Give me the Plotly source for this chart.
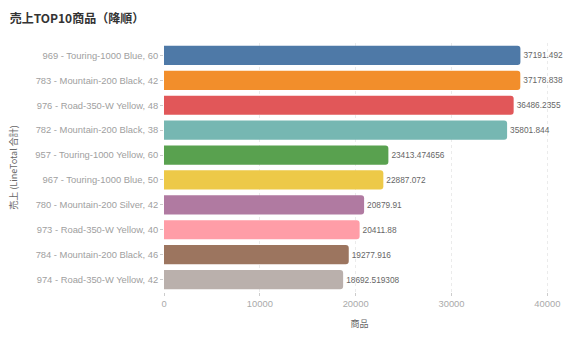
import plotly.graph_objects as go

products = [
    "969 - Touring-1000 Blue, 60",
    "783 - Mountain-200 Black, 42",
    "976 - Road-350-W Yellow, 48",
    "782 - Mountain-200 Black, 38",
    "957 - Touring-1000 Yellow, 60",
    "967 - Touring-1000 Blue, 50",
    "780 - Mountain-200 Silver, 42",
    "973 - Road-350-W Yellow, 40",
    "784 - Mountain-200 Black, 46",
    "974 - Road-350-W Yellow, 42",
]
sales = [37191.492, 37178.838, 36486.2355, 35801.844, 23413.474656,
         22887.072, 20879.91, 20411.88, 19277.916, 18692.519308]
sales_labels = ["37191.492", "37178.838", "36486.2355", "35801.844", "23413.474656",
                "22887.072", "20879.91", "20411.88", "19277.916", "18692.519308"]
colors = ["#4e79a7", "#f28e2b", "#e15759", "#76b7b2", "#59a14f",
          "#edc948", "#b07aa1", "#ff9da7", "#9c755f", "#bab0ac"]
x_ticks = [0, 10000, 20000, 30000, 40000]

fig = go.Figure(go.Bar(
    x=sales, y=products, orientation="h",
    marker=dict(color=colors, cornerradius=3, line=dict(width=0)),
    text=sales_labels, textposition="outside",
    textfont=dict(size=8.3, color="#666666", family="Liberation Sans"),
    cliponaxis=False,
))

fig.update_layout(
    width=567, height=340,
    margin=dict(l=164, r=12, t=43, b=48),
    paper_bgcolor="white", plot_bgcolor="white",
    bargap=0.23,
    showlegend=False,
    title=dict(text="<b>売上TOP10商品（降順）</b>", x=0.017, xanchor="left",
               y=0.945, yanchor="middle",
               font=dict(size=12, color="#333333", family="Noto Sans CJK JP")),
    font=dict(family="Liberation Sans", color="#999999"),
)
fig.update_xaxes(
    range=[0, 40800], tickvals=x_ticks, ticktext=[str(v) for v in x_ticks],
    showgrid=True, gridcolor="#ebebeb", griddash="dot", gridwidth=1,
    zeroline=False, showline=False, automargin=False,
    ticks="outside", ticklen=3, tickcolor="#cccccc",
    tickfont=dict(size=9.4, color="#aaaaaa", family="Liberation Sans"),
    title=dict(text="商品", font=dict(size=9, color="#666666", family="Noto Sans CJK JP"), standoff=12),
)
fig.update_yaxes(
    autorange="reversed", showgrid=False, zeroline=False, showline=False,
    automargin=False,
    ticks="outside", ticklen=3, tickcolor="#cccccc",
    tickfont=dict(size=9.4, color="#a0a0a0", family="Liberation Sans"),
    title=dict(text="売上 (LineTotal 合計)", font=dict(size=9, color="#666666", family="Noto Sans CJK JP"), standoff=16),
)

fig.write_html("out.html")
